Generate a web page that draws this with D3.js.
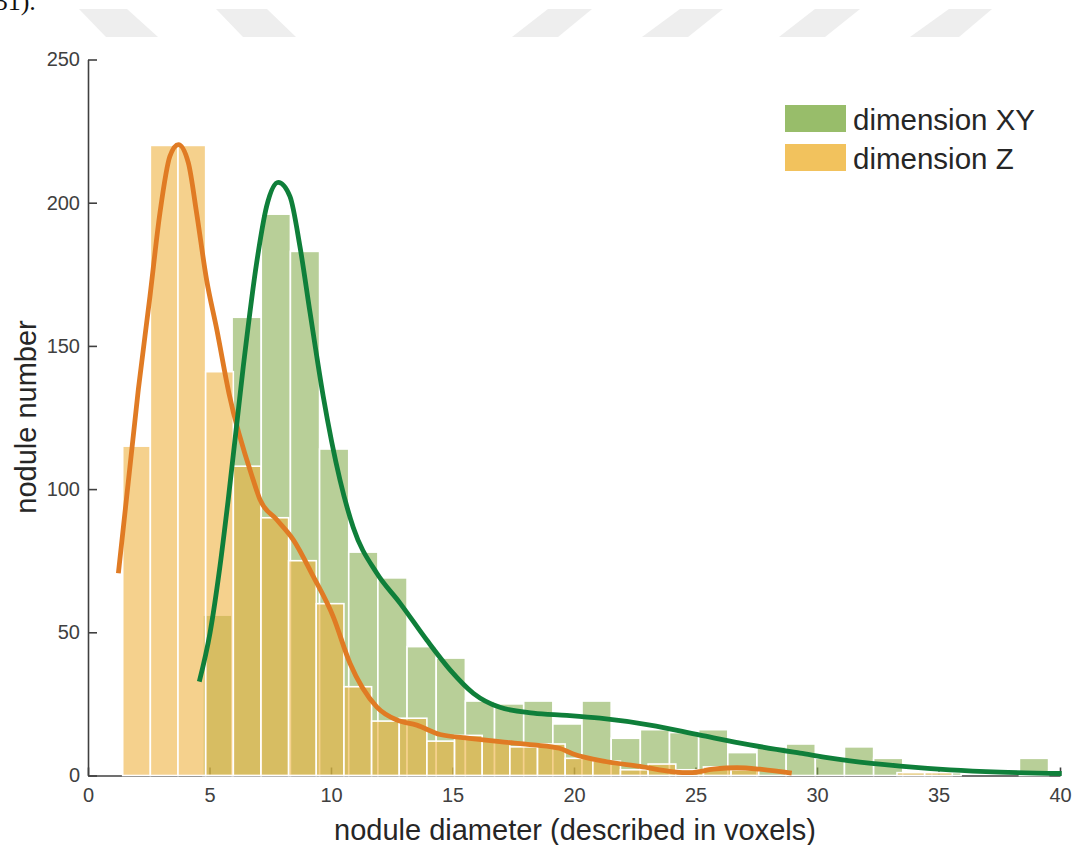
<!DOCTYPE html>
<html>
<head>
<meta charset="utf-8">
<script src="https://cdn.jsdelivr.net/npm/d3@7"></script>
<style>
  html, body { margin: 0; padding: 0; background: #ffffff; }
  svg { display: block; }
  text { font-family: "Liberation Sans", Arial, Helvetica, sans-serif; }
</style>
</head>
<body>
<svg id="chart" width="1074" height="845"></svg>
<script>
// ---------- data ----------
const xTicks = [0, 5, 10, 15, 20, 25, 30, 35, 40];
const yTicks = [0, 50, 100, 150, 200, 250];

// histogram "dimension XY": bins start at 4.73, width 1.2
const xyBinStart = 4.73;
const xyBinWidth = 1.2;
const xyCounts = [56, 160, 196, 183, 114, 78, 69, 45, 41, 26, 25, 26, 18, 26, 13, 16, 15, 16, 8, 10, 11, 6, 10, 6, 1, 1, 0, 0, 6];

// histogram "dimension Z": bins start at 1.428, width 1.138
const zBinStart = 1.428;
const zBinWidth = 1.138;
const zCounts = [115, 220, 220, 141, 108, 90, 75, 60, 31, 19, 20, 12, 14, 12, 10, 11, 6, 5, 2, 4, 2, 3, 2, 0, 0, 0, 0, 0, 1, 1];

// fitted density curves (x, count)
const xyCurveX = [4.58, 5.02, 5.43, 5.77, 6.39, 6.94, 7.35, 7.83, 8.31, 8.72, 9.14, 9.68, 10.37, 10.92, 11.88, 12.84, 13.94, 14.90, 15.86, 16.95, 18.33, 19.70, 21.07, 23.13, 25.19, 27.24, 29.30, 31.36, 33.42, 35.47, 37.53, 40.07];
const xyCurveY = [32.8, 49.7, 73.0, 96.3, 142.8, 179.0, 198.7, 207.1, 202.2, 184.8, 161.5, 132.4, 103.2, 86.5, 70.7, 60.2, 47.3, 36.9, 28.7, 23.8, 21.8, 21.0, 20.0, 17.6, 14.1, 10.7, 7.8, 5.1, 3.3, 2.0, 1.2, 0.7];

const zCurveX = [1.25, 2.07, 2.55, 2.96, 3.37, 3.72, 4.13, 4.47, 4.88, 5.30, 5.80, 6.80, 7.08, 7.77, 8.45, 9.27, 10.09, 10.78, 11.88, 12.70, 13.53, 14.49, 15.70, 16.95, 18.33, 19.40, 19.97, 21.35, 22.72, 24.09, 24.77, 25.73, 26.70, 27.65, 28.96];
const zCurveY = [70.6, 134.7, 167.3, 196.4, 216.2, 220.3, 213.9, 196.4, 173.1, 155.7, 133.5, 103.2, 96.3, 89.3, 82.3, 69.5, 55.5, 39.2, 24.0, 19.4, 17.6, 14.3, 13.0, 11.8, 10.7, 9.5, 7.5, 4.8, 3.2, 1.3, 1.0, 2.2, 2.7, 2.2, 0.8];

const seriesNames = ["dimension XY", "dimension Z"];
const xLabel = "nodule diameter (described in voxels)";
const yLabel = "nodule number";

// ---------- drawing ----------
const svg = d3.select("#chart");
const W = 1074, H = 845;

svg.append("rect").attr("width", W).attr("height", H).attr("fill", "#ffffff");

// faint header decoration (page watermark strip)
const deco = [
  [[79, 9], [127, 9], [158, 37], [106, 37]],
  [[216, 9], [267, 9], [296, 37], [243, 37]],
  [[548, 9], [592, 9], [558, 37], [512, 37]],
  [[680, 9], [723, 9], [688, 37], [642, 37]],
  [[815, 9], [860, 9], [825, 37], [779, 37]],
  [[949, 9], [992, 9], [959, 37], [910, 37]]
];
svg.append("g").selectAll("polygon").data(deco).join("polygon")
  .attr("points", d => d.map(p => p.join(",")).join(" "))
  .attr("fill", "#eeeeee");
svg.append("text").attr("x", -14).attr("y", 10)
  .style("font-family", "'Liberation Serif', 'Times New Roman', serif")
  .style("font-size", "26px").attr("fill", "#111").text("(31).");

const x = d3.scaleLinear().domain([0, 40]).range([88, 1060]);
const y = d3.scaleLinear().domain([0, 250]).range([775.5, 59.5]);

const axisColor = "#404040";

// axes (drawn first so bars sit over them)
const gx = svg.append("g").attr("transform", `translate(0,${y(0)})`)
  .call(d3.axisBottom(x).tickValues(xTicks).tickSizeInner(-8).tickSizeOuter(0).tickPadding(12));
const gy = svg.append("g").attr("transform", `translate(${x(0)},0)`)
  .call(d3.axisLeft(y).tickValues(yTicks).tickSizeInner(-9).tickSizeOuter(0).tickPadding(8));
[gx, gy].forEach(g => {
  g.select(".domain").attr("stroke", axisColor).attr("stroke-width", 1.6);
  g.selectAll(".tick line").attr("stroke", axisColor).attr("stroke-width", 1.6);
  g.selectAll(".tick text").attr("fill", "#404040")
    .style("font-size", "20px")
    .style("font-family", "'Liberation Sans', Arial, sans-serif");
});

// histogram bars
function bins(start, width, counts) {
  return counts.map((c, i) => ({ x0: start + i * width, x1: start + (i + 1) * width, c }));
}
const xyBins = bins(xyBinStart, xyBinWidth, xyCounts).filter(d => d.c > 0);
const zBins = bins(zBinStart, zBinWidth, zCounts).filter(d => d.c > 0);

svg.append("g").selectAll("rect").data(xyBins).join("rect")
  .attr("x", d => x(d.x0)).attr("width", d => x(d.x1) - x(d.x0))
  .attr("y", d => y(d.c)).attr("height", d => y(0) - y(d.c))
  .attr("fill", "#85ac4d").attr("fill-opacity", 0.58)
  .attr("stroke", "#ffffff").attr("stroke-width", 1.6);

svg.append("g").selectAll("rect").data(zBins).join("rect")
  .attr("x", d => x(d.x0)).attr("width", d => x(d.x1) - x(d.x0))
  .attr("y", d => y(d.c)).attr("height", d => y(0) - y(d.c))
  .attr("fill", "#eeb03a").attr("fill-opacity", 0.58)
  .attr("stroke", "#ffffff").attr("stroke-width", 1.6);

// fitted curves
const line = d3.line().x(d => x(d[0])).y(d => y(d[1])).curve(d3.curveMonotoneX);
svg.append("path").datum(zCurveX.map((v, i) => [v, zCurveY[i]]))
  .attr("d", line).attr("fill", "none").attr("stroke", "#e07b24")
  .attr("stroke-width", 4.8).attr("stroke-linejoin", "round");
svg.append("path").datum(xyCurveX.map((v, i) => [v, xyCurveY[i]]))
  .attr("d", line).attr("fill", "none").attr("stroke", "#0f7f3a")
  .attr("stroke-width", 4.8).attr("stroke-linejoin", "round");

// axis labels
svg.append("text").attr("x", 575).attr("y", 840).attr("text-anchor", "middle")
  .style("font-size", "29px").attr("fill", "#262626").text(xLabel);
svg.append("text").attr("transform", "translate(36,417) rotate(-90)").attr("text-anchor", "middle")
  .style("font-size", "29px").attr("fill", "#262626").text(yLabel);

// legend
const legendColors = ["#98bd6a", "#f2c25d"];
const lg = svg.append("g");
seriesNames.forEach((name, i) => {
  const top = 105 + i * 39;
  lg.append("rect").attr("x", 785).attr("y", top).attr("width", 61).attr("height", 27)
    .attr("fill", legendColors[i]);
  lg.append("text").attr("x", 853).attr("y", top + 25)
    .style("font-size", "29.5px").attr("fill", "#262626").text(name);
});
</script>
</body>
</html>
